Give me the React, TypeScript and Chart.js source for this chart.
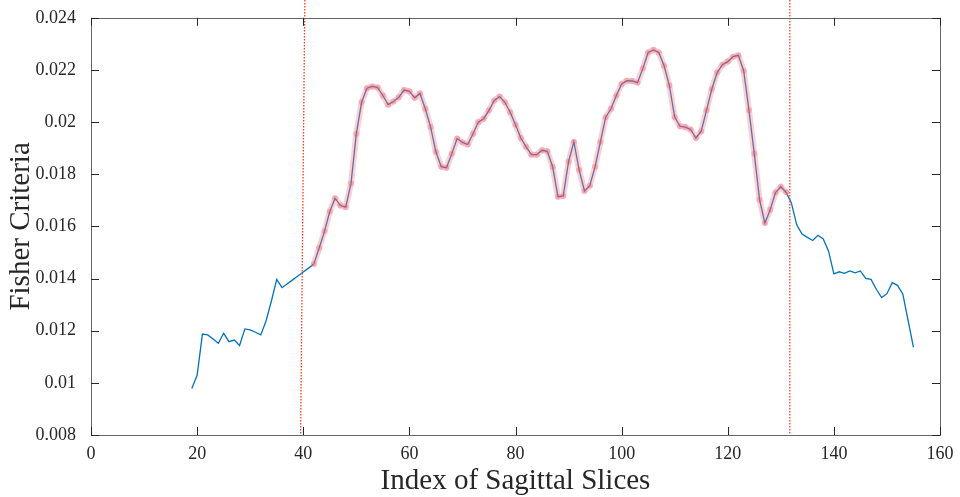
import React, { useEffect, useRef } from "react";
import { Chart, registerables } from "chart.js";

Chart.register(...registerables);

// ---- data ----
const firstSliceIndex = 19;
const fisherCriteria = [
  0.00978, 0.01029, 0.01187, 0.01184, 0.01168, 0.01152, 0.0119, 0.01158, 0.01164, 0.01143,
  0.01207, 0.01203, 0.01194, 0.01184, 0.01238, 0.01314, 0.01397, 0.01365, 0.0138, 0.01395,
  0.0141, 0.01425, 0.0144, 0.01456, 0.01517, 0.01581, 0.01657, 0.01708, 0.0168, 0.01674,
  0.01765, 0.01955, 0.02076, 0.0213, 0.02137, 0.02133, 0.02102, 0.02067, 0.02079, 0.02095,
  0.02123, 0.02118, 0.02093, 0.0211, 0.02051, 0.01981, 0.01886, 0.01829, 0.01825, 0.01879,
  0.01937, 0.01922, 0.01914, 0.01955, 0.02, 0.02013, 0.02045, 0.02083, 0.02098, 0.02076,
  0.02038, 0.0199, 0.01939, 0.01905, 0.01875, 0.01875, 0.01892, 0.01888, 0.01829, 0.01714,
  0.01717, 0.01848, 0.01924, 0.01816, 0.01736, 0.01756, 0.01829, 0.01924, 0.02019, 0.02051,
  0.02102, 0.02146, 0.02159, 0.02158, 0.02151, 0.02206, 0.02267, 0.02277, 0.02267, 0.02216,
  0.0214, 0.02019, 0.01984, 0.01981, 0.01972, 0.01939, 0.01965, 0.02045, 0.02127, 0.0219,
  0.0222, 0.02232, 0.02251, 0.02256, 0.02197, 0.02045, 0.01879, 0.01702, 0.01613, 0.01664,
  0.0173, 0.01752, 0.01731, 0.01689, 0.01606, 0.01571, 0.01558, 0.01546, 0.01566, 0.01552,
  0.01505, 0.01418, 0.01426, 0.0142, 0.01429, 0.01422, 0.01429, 0.01401, 0.01397, 0.01359,
  0.01327, 0.01342, 0.01384, 0.01374, 0.0134, 0.01238, 0.01136,
];
const highlightStart = 42;
const highlightEnd = 131;
// red dotted boundary lines: [value at top, value at bottom]
const boundaryTop = [40.3, 131.7];
const boundaryBottom = [39.5, 131.7];

const xMin = 0, xMax = 160, xStep = 20;
const yMin = 0.008, yMax = 0.024, yStep = 0.002;
const xTitle = "Index of Sagittal Slices";
const yTitle = "Fisher Criteria";

const FONT = "'Liberation Serif', 'Times New Roman', serif";
const TEXT = "#262626";

const framePlugin = {
  id: "matlabFrame",
  afterDatasetsDraw(chart: any) {
    const { ctx, chartArea, scales } = chart;
    const xs = scales.x;
    ctx.save();
    ctx.strokeStyle = "#ff3a1a";
    ctx.lineWidth = 1.3;
    ctx.setLineDash([1.5, 1.5]);
    for (let i = 0; i < boundaryTop.length; i++) {
      const xt = xs.getPixelForValue(boundaryTop[i]);
      const xb = xs.getPixelForValue(boundaryBottom[i]);
      ctx.beginPath();
      ctx.moveTo(xt, 0);
      ctx.lineTo(xb, chartArea.bottom);
      ctx.stroke();
    }
    ctx.restore();
  },
  afterDraw(chart: any) {
    const { ctx, chartArea, scales } = chart;
    const { left, right, top, bottom } = chartArea;
    ctx.save();
    ctx.strokeStyle = "#666";
    ctx.lineWidth = 1;
    ctx.strokeRect(Math.round(left) + 0.5, Math.round(top) + 0.5, Math.round(right - left), Math.round(bottom - top));
    ctx.strokeStyle = "#262626";
    const tl = 8;
    scales.x.ticks.forEach((t: any) => {
      const x = Math.round(scales.x.getPixelForValue(t.value)) + 0.5;
      ctx.beginPath();
      ctx.moveTo(x, bottom);
      ctx.lineTo(x, bottom - tl);
      ctx.moveTo(x, top);
      ctx.lineTo(x, top + tl);
      ctx.stroke();
    });
    scales.y.ticks.forEach((t: any) => {
      const y = Math.round(scales.y.getPixelForValue(t.value)) + 0.5;
      ctx.beginPath();
      ctx.moveTo(left, y);
      ctx.lineTo(left + tl, y);
      ctx.moveTo(right, y);
      ctx.lineTo(right - tl, y);
      ctx.stroke();
    });
    ctx.restore();
  },
};

export default function App() {
  const canvasRef = useRef<HTMLCanvasElement>(null);

  useEffect(() => {
    const mainPoints = fisherCriteria.map((v, i) => ({ x: firstSliceIndex + i, y: v }));
    const highlightPoints = mainPoints.filter((p) => p.x >= highlightStart && p.x <= highlightEnd);

    const chart = new Chart(canvasRef.current as HTMLCanvasElement, {
      type: "line",
      data: {
        datasets: [
          {
            data: highlightPoints,
            borderColor: "rgba(255, 120, 130, 0.36)",
            borderWidth: 6,
            borderJoinStyle: "round",
            borderCapStyle: "round",
            pointRadius: 3,
            pointBorderWidth: 0,
            pointBackgroundColor: "rgba(235, 80, 95, 0.3)",
            tension: 0,
          },
          {
            data: mainPoints,
            borderColor: "#0072BD",
            borderWidth: 1.3,
            pointRadius: 0,
            tension: 0,
          },
        ],
      },
      plugins: [framePlugin],
      options: {
        animation: false,
        responsive: true,
        maintainAspectRatio: false,
        layout: { padding: { top: 13, right: 20, left: 0, bottom: 0 } },
        plugins: { legend: { display: false }, tooltip: { enabled: false } },
        scales: {
          x: {
            type: "linear",
            min: xMin,
            max: xMax,
            grid: { display: false },
            border: { display: false },
            afterFit: (s: any) => {
              s.height = 62;
            },
            ticks: {
              stepSize: xStep,
              color: TEXT,
              padding: 0,
              maxRotation: 0,
              font: { family: FONT, size: 18 },
            },
            title: {
              display: true,
              text: xTitle,
              color: TEXT,
              font: { family: FONT, size: 29, lineHeight: 1.0 },
              padding: { top: 0, bottom: 1 },
            },
          },
          y: {
            type: "linear",
            min: yMin,
            max: yMax,
            grid: { display: false },
            border: { display: false },
            afterFit: (s: any) => {
              s.width = 91;
            },
            ticks: {
              stepSize: yStep,
              color: TEXT,
              padding: 7,
              font: { family: FONT, size: 18 },
              callback: (v: any) => parseFloat(Number(v).toFixed(4)).toString(),
            },
            title: {
              display: true,
              text: yTitle,
              color: TEXT,
              font: { family: FONT, size: 29, lineHeight: 1.0 },
              padding: { top: 7, bottom: 0 },
            },
          },
        },
      } as any,
    });
    return () => chart.destroy();
  }, []);

  return (
    <div style={{ position: "absolute", left: 0, top: 0, width: 960, height: 497 }}>
      <canvas ref={canvasRef} />
    </div>
  );
}
